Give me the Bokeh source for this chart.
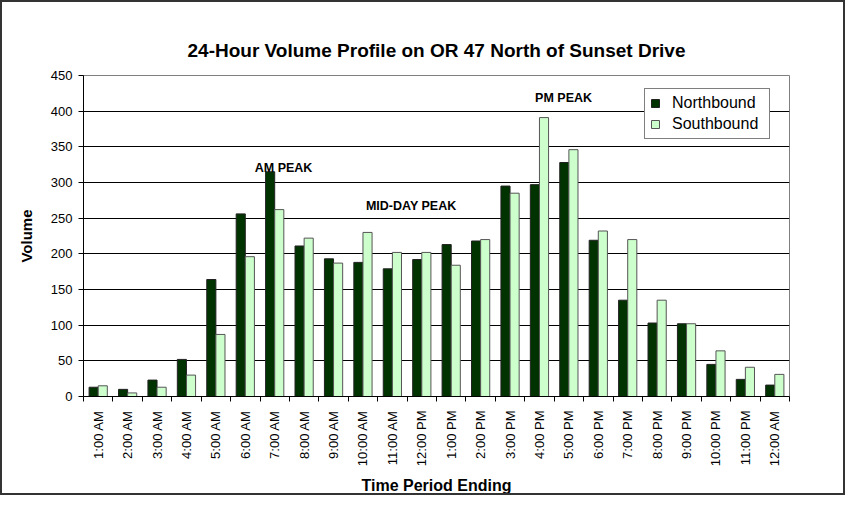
import numpy as np
from bokeh.plotting import figure
from bokeh.models import ColumnDataSource, FixedTicker, Range1d, Legend, LegendItem
from bokeh.core.properties import value
from bokeh.transform import dodge
from bokeh.embed import file_html
from bokeh.resources import INLINE

times = ["1:00 AM", "2:00 AM", "3:00 AM", "4:00 AM", "5:00 AM", "6:00 AM",
         "7:00 AM", "8:00 AM", "9:00 AM", "10:00 AM", "11:00 AM", "12:00 PM",
         "1:00 PM", "2:00 PM", "3:00 PM", "4:00 PM", "5:00 PM", "6:00 PM",
         "7:00 PM", "8:00 PM", "9:00 PM", "10:00 PM", "11:00 PM", "12:00 AM"]
northbound = [13, 10, 23, 52, 164, 256, 315, 211, 193, 188, 179, 192,
              213, 218, 295, 297, 328, 219, 135, 103, 102, 45, 24, 16]
southbound = [15, 5, 13, 30, 87, 196, 262, 222, 187, 230, 202, 202,
              184, 220, 285, 391, 346, 232, 220, 135, 102, 64, 41, 31]
y_ticks = [0, 50, 100, 150, 200, 250, 300, 350, 400, 450]
peak_labels = ["AM PEAK", "MID-DAY PEAK", "PM PEAK"]
peak_pos = [6.8, 11.14, 16.32]   # in category units
peak_val = [320, 267, 418]

FONT = "Liberation Sans"
n = len(times)
centers = [i + 0.5 for i in range(n)]
bounds = list(range(n + 1))

src = ColumnDataSource(dict(x=centers, nb=northbound, sb=southbound, t=times))

p = figure(width=845, height=495, x_range=Range1d(0, n), y_range=Range1d(0, 450),
           output_backend="svg", toolbar_location=None,
           min_border_left=81, min_border_right=58, min_border_top=73, min_border_bottom=101,
           title="24-Hour Volume Profile on OR 47 North of Sunset Drive")
p.styles = {"border": "2px solid #333333"}

p.title.align = "center"
p.title.text_font = FONT
p.title.text_font_size = "19px"
p.title.text_font_style = "bold"
p.title.text_color = "black"
p.title.standoff = 30

p.outline_line_color = "#808080"
p.background_fill_color = "white"

r_nb = p.vbar(x=dodge("x", -0.155, range=p.x_range), top="nb", width=0.31, source=src,
              fill_color="#003300", line_color="#222222", line_width=1)
r_sb = p.vbar(x=dodge("x", 0.155, range=p.x_range), top="sb", width=0.31, source=src,
              fill_color="#CCFFCC", line_color="#555555", line_width=1)

p.text(x=peak_pos, y=peak_val, text=peak_labels, text_font=value(FONT),
       text_font_style="bold", text_font_size="12.5px", text_align="center",
       text_baseline="middle", text_color="black")

# x axis
xa = p.xaxis[0]
xa.ticker = FixedTicker(ticks=centers, minor_ticks=bounds)
xa.major_label_overrides = {c: t for c, t in zip(centers, times)}
xa.major_label_orientation = np.pi / 2
xa.major_tick_out = 0
xa.major_tick_in = 0
xa.minor_tick_out = 5
xa.minor_tick_in = 0
xa.minor_tick_line_color = "black"
xa.axis_line_color = "black"
xa.major_label_standoff = 9
xa.major_label_text_font = FONT
xa.major_label_text_font_size = "13px"
xa.major_label_text_color = "black"
xa.axis_label = "Time Period Ending"
xa.axis_label_text_font = FONT
xa.axis_label_text_font_size = "16px"
xa.axis_label_text_font_style = "bold"
xa.axis_label_text_color = "black"
xa.axis_label_standoff = 8

# y axis
ya = p.yaxis[0]
ya.ticker = FixedTicker(ticks=y_ticks)
ya.major_tick_out = 5
ya.major_tick_in = 0
ya.major_tick_line_color = "black"
ya.minor_tick_line_color = None
ya.axis_line_color = "black"
ya.major_label_standoff = 6
ya.major_label_text_font = FONT
ya.major_label_text_font_size = "13px"
ya.major_label_text_color = "black"
ya.axis_label = "Volume"
ya.axis_label_text_font = FONT
ya.axis_label_text_font_size = "15px"
ya.axis_label_text_font_style = "bold"
ya.axis_label_text_color = "black"
ya.axis_label_standoff = 13

p.xgrid.visible = False
p.ygrid.ticker = FixedTicker(ticks=y_ticks)
p.ygrid.grid_line_color = "black"
p.ygrid.grid_line_width = 1

legend = Legend(items=[LegendItem(label="Northbound", renderers=[r_nb]),
                       LegendItem(label="Southbound", renderers=[r_sb])],
                location=(561, 257))
legend.border_line_color = "black"
legend.border_line_width = 1
legend.background_fill_color = "white"
legend.background_fill_alpha = 1
legend.label_text_font = FONT
legend.label_text_font_size = "16px"
legend.label_text_color = "black"
legend.glyph_width = 10
legend.glyph_height = 10
legend.label_height = 16
legend.label_width = 92
legend.spacing = 3
legend.padding = 5
legend.margin = 0
legend.label_standoff = 12
p.add_layout(legend)

open("out.html", "w").write(file_html(p, INLINE))
